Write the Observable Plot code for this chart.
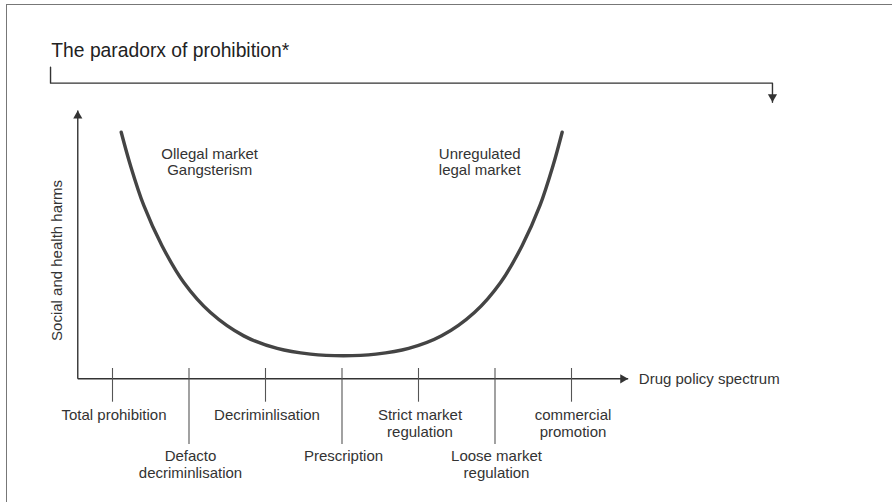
<!DOCTYPE html>
<html>
<head>
<meta charset="utf-8">
<script src="https://cdn.jsdelivr.net/npm/d3@7"></script>
<script src="https://cdn.jsdelivr.net/npm/@observablehq/plot@0.6"></script>
<style>
  html, body { margin: 0; padding: 0; background: #fff; }
  #wrap { position: relative; width: 892px; height: 502px; overflow: hidden; }
  #frame { position: absolute; left: 6px; top: 4px; width: 892px; height: 502px;
           border-top: 1.5px solid #777; border-left: 1.5px solid #777; box-sizing: border-box; }
  #chart { position: absolute; left: 0; top: 0; }
</style>
</head>
<body>
<div id="wrap"><div id="frame"></div><div id="chart"></div></div>
<script>
// ---- data (x: position along the policy spectrum, tick index units; y: harm, 0..100) ----
const policies = ["Total prohibition", "Defacto\ndecriminlisation", "Decriminlisation", "Prescription",
                  "Strict market\nregulation", "Loose market\nregulation", "commercial\npromotion"];
const policyPos = [0, 1, 2, 3, 4, 5, 6];
const policyRow = [0, 1, 0, 1, 0, 1, 0];

const curveX = [0.114, 0.235, 0.409, 0.647, 0.932, 1.281, 1.716, 2.153, 2.588, 3.02,
                3.444, 3.872, 4.302, 4.731, 5.073, 5.354, 5.588, 5.759, 5.878];
const curveY = [91.9, 79.5, 64.6, 49.6, 35.9, 24.7, 16.0, 11.3, 9.2, 8.6,
                9.2, 11.3, 16.0, 24.7, 35.9, 49.6, 64.6, 79.5, 91.9];

const regionLabels = ["Ollegal market\nGangsterism", "Unregulated\nlegal market"];
const regionX = [1.27, 4.80];
const regionY = [86.5, 86.5];

const titleText = "The paradorx of prohibition*";
const xAxisLabel = "Drug policy spectrum";
const yAxisLabel = "Social and health harms";

// annotation anchors (data units)
const axisOrigin = {x: -0.454, y: 0};
const xAxisEndX = 6.741;
const yAxisEndY = 100;
const bracketX = [-0.81, -0.81, 8.627, 8.627];
const bracketY = [116.1, 110.2, 110.2, 103.1];
const titlePos = {x: -0.80, y: 124.9};
const yLabelPos = {x: -0.72, y: 44.1};
const xLabelPos = {x: 6.88, y: 0};

// ---- build ----
const PXU = 268.3 / 100; // pixels per y unit (for tick lengths / offsets)
const ticks = policies.map((name, i) => ({name, pos: policyPos[i], row: policyRow[i]}));
const curve = curveX.map((x, i) => ({x, y: curveY[i]}));
const regions = regionLabels.map((t, i) => ({t, x: regionX[i], y: regionY[i]}));
const bracket = bracketX.map((x, i) => ({x, y: bracketY[i]}));

const axisColor = "#333";
const textColor = "#333";
const font = "'Liberation Sans', Arial, Helvetica, sans-serif";

const plot = Plot.plot({
  width: 892,
  height: 502,
  marginLeft: 112,
  marginRight: 321,
  marginTop: 110,
  marginBottom: 123.7,
  x: {domain: [0, 6], axis: null},
  y: {domain: [0, 100], axis: null},
  style: {fontFamily: font, background: "transparent", overflow: "visible"},
  marks: [
    // axes
    Plot.link([axisOrigin], {x1: "x", y1: "y", x2: xAxisEndX, y2: "y", stroke: axisColor, strokeWidth: 1.4}),
    Plot.link([axisOrigin], {x1: "x", y1: "y", x2: "x", y2: yAxisEndY, stroke: axisColor, strokeWidth: 1.4}),
    Plot.dot([{x: xAxisEndX, y: 0}], {x: "x", y: "y", symbol: "triangle", rotate: 90, r: 3.4, fill: axisColor, dx: -5.3}),
    Plot.dot([{x: axisOrigin.x, y: yAxisEndY}], {x: "x", y: "y", symbol: "triangle", rotate: 0, r: 3.4, fill: axisColor, dy: 5.3}),
    // ticks
    Plot.ruleX(ticks, {x: "pos", y1: 10.3 / PXU, y2: d => -(d.row ? 65.7 : 23.4) / PXU, stroke: "#555", strokeWidth: 1.1}),
    Plot.text(ticks, {x: "pos", y: d => -(d.row ? 70.2 : 29.0) / PXU, text: "name", lineAnchor: "top",
      textAnchor: "middle", fontSize: 15, lineHeight: 1.13, fill: textColor, dx: 1.5}),
    // curve
    Plot.line(curve, {x: "x", y: "y", curve: "catmull-rom", stroke: "#444", strokeWidth: 3.4}),
    // region labels
    Plot.text(regions, {x: "x", y: "y", text: "t", lineAnchor: "top", textAnchor: "middle",
      fontSize: 15, lineHeight: 1.12, fill: textColor}),
    // axis labels
    Plot.text([xLabelPos], {x: "x", y: "y", text: () => xAxisLabel, textAnchor: "start", lineAnchor: "middle",
      fontSize: 15, fill: textColor}),
    Plot.text([yLabelPos], {x: "x", y: "y", text: () => yAxisLabel, rotate: -90, textAnchor: "middle", lineAnchor: "middle",
      fontSize: 15, fill: textColor}),
    // title + bracket
    Plot.text([titlePos], {x: "x", y: "y", text: () => titleText, textAnchor: "start", lineAnchor: "top",
      fontSize: 19.3, fill: "#222"}),
    Plot.line(bracket, {x: "x", y: "y", stroke: axisColor, strokeWidth: 1.4}),
    Plot.dot([bracket[bracket.length - 1]], {x: "x", y: "y", symbol: "triangle", rotate: 180, r: 3.4, fill: axisColor, dy: -5.3})
  ]
});
document.getElementById("chart").appendChild(plot);
</script>
</body>
</html>
